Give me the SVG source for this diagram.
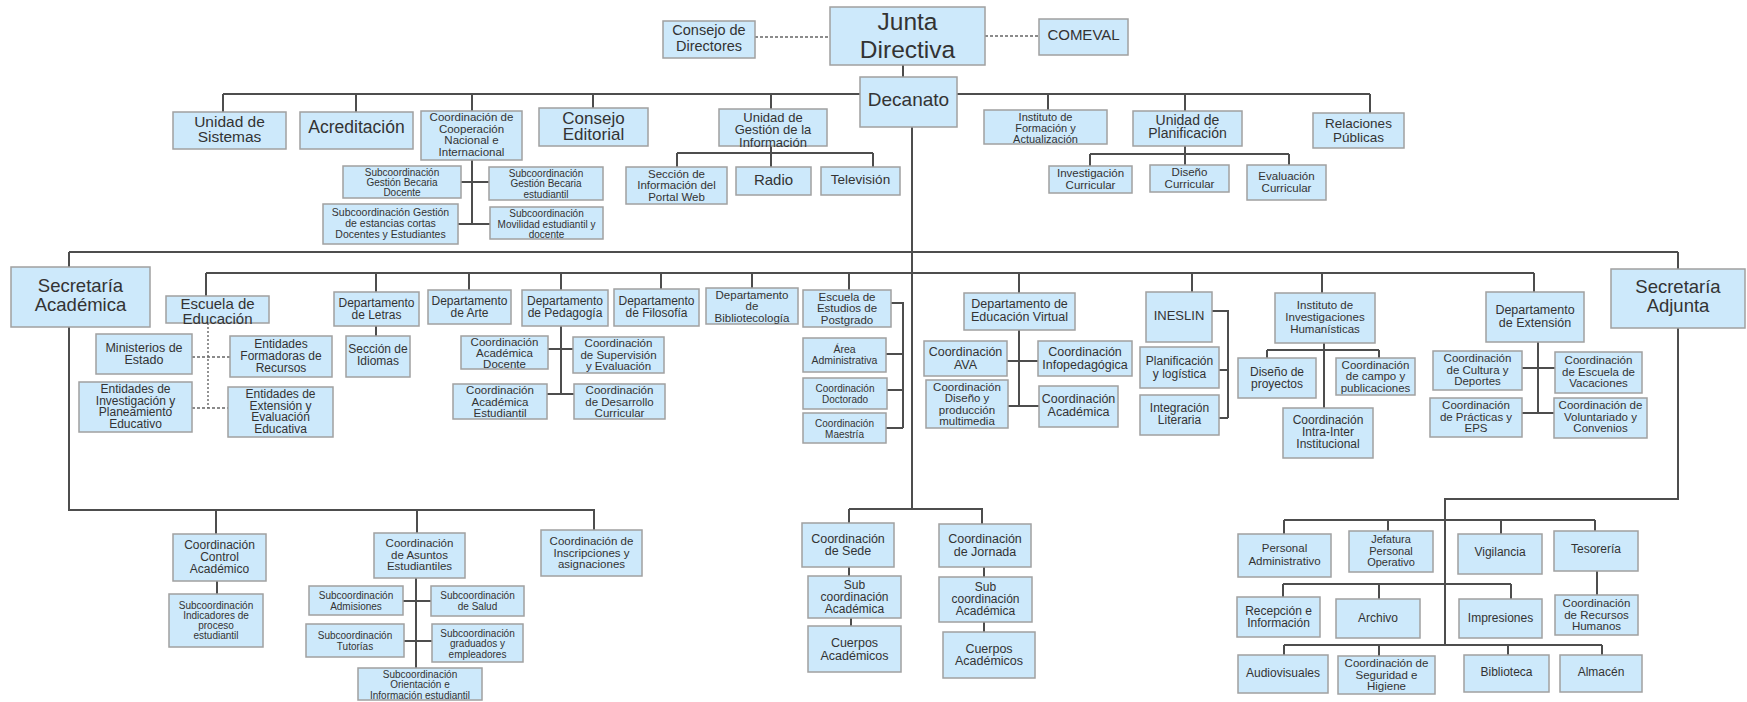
<svg xmlns="http://www.w3.org/2000/svg" width="1747" height="702" viewBox="0 0 1747 702">
<style>
rect{fill:#CDE9FB;stroke:#A0A0A0;stroke-width:1.5}
text{font-family:"Liberation Sans",Arial,sans-serif;fill:#333;text-anchor:middle;dominant-baseline:central}
.c path{fill:none;stroke:#4d4d4d;stroke-width:2}
.c .d{stroke:#666;stroke-width:1.3;stroke-dasharray:3 2}
.c .o{stroke:#888;stroke-width:1.8;stroke-dasharray:2 2}
.f10{font-size:10px}.f105{font-size:10.5px}.f11{font-size:11px}.f115{font-size:11.5px}.f12{font-size:12px}.f125{font-size:12.5px}.f13{font-size:13px}.f135{font-size:13.5px}.f14{font-size:14px}.f145{font-size:14.5px}.f15{font-size:15px}.f155{font-size:15.5px}.f17{font-size:17px}.f175{font-size:17.5px}.f185{font-size:18.5px}.f19{font-size:19px}.f26{font-size:24.5px}
</style>
<rect x="0" y="0" width="1747" height="702" style="fill:#fff;stroke:none"/>
<g id="connectors" class="c">
<path class="d" d="M755,37H830M985,36H1039"/>
<path d="M903,65V77"/>
<path d="M223,94H1370M223,94V112M356,94V112M472,94V111M593,94V108M771,94V109M1048,94V110M1185,94V111M1370,94V113"/>
<path d="M472,160V224M461,182H489M458,224H490"/>
<path d="M771,146V167M677,153H873M677,153V167M873,153V167"/>
<path d="M1185,146V165M1090,154H1289M1090,154V166M1289,154V165"/>
<path d="M912,127V509"/>
<path d="M69,252H1678M69,252V267M1678,252V269"/>
<path d="M206,273H1534M206,273V296M376,273V292M469,273V290M561,273V290M661,273V289M752,273V288M849,273V290M1019,273V293M1192,273V292M1322,273V293M1534,273V292"/>
<path class="o" d="M208,323V408"/>
<path class="d" d="M192,357H230M192,408H228"/>
<path d="M376,326V336"/>
<path d="M561,326V394M548,349H573M547,394H574"/>
<path d="M891,303H903V428M886,354H903M887,390H903M886,428H903"/>
<path d="M1019,330V406M1007,361H1038M1008,406H1039"/>
<path d="M1212,311H1228V418M1219,370H1228M1219,418H1228"/>
<path d="M1324,343V408M1267,350H1379M1267,350V358M1379,350V358"/>
<path d="M1538,342V413M1522,368H1555M1522,413H1554"/>
<path d="M69,327V510H594V530M216,510V534M417,510V533"/>
<path d="M217,581V594"/>
<path d="M416,578V668M403,601H431M404,641H432"/>
<path d="M849,509H982V524M849,509V523"/>
<path d="M849,567V576M851,618V626M984,567V577M984,622V632"/>
<path d="M1678,328V499H1445V645"/>
<path d="M1284,520H1595M1284,520V534M1388,520V531M1501,520V534M1595,520V531"/>
<path d="M1597,571V595"/>
<path d="M1283,584H1511M1283,584V597M1379,584V599M1511,584V599"/>
<path d="M1284,645H1602M1284,645V655M1379,645V656M1508,645V655M1602,645V655"/>
</g>
<g id="n-junta"><rect x="830" y="7" width="155" height="58"/><text class="f26"><tspan x="907.5" y="21">Junta</tspan><tspan x="907.5" y="48.5">Directiva</tspan></text></g>
<g id="n-consejo-dir"><rect x="663" y="21" width="92" height="37"/><text class="f145"><tspan x="709" y="30">Consejo de</tspan><tspan x="709" y="46">Directores</tspan></text></g>
<g id="n-comeval"><rect x="1039" y="19" width="89" height="36"/><text class="f15"><tspan x="1083.5" y="34">COMEVAL</tspan></text></g>
<g id="n-decanato"><rect x="860" y="77" width="97" height="50"/><text class="f19"><tspan x="908.5" y="99">Decanato</tspan></text></g>
<g id="n-sistemas"><rect x="173" y="112" width="113" height="37"/><text class="f155"><tspan x="229.5" y="121">Unidad de</tspan><tspan x="229.5" y="136">Sistemas</tspan></text></g>
<g id="n-acreditacion"><rect x="300" y="112" width="113" height="37"/><text class="f175"><tspan x="356.5" y="127">Acreditación</tspan></text></g>
<g id="n-coop"><rect x="421" y="111" width="101" height="49"/><text class="f115"><tspan x="471.5" y="117">Coordinación de</tspan><tspan x="471.5" y="128.5">Cooperación</tspan><tspan x="471.5" y="140">Nacional  e</tspan><tspan x="471.5" y="151.5">Internacional</tspan></text></g>
<g id="n-gbd"><rect x="343" y="166" width="118" height="32"/><text class="f10"><tspan x="402" y="171.5">Subcoordinación</tspan><tspan x="402" y="181.5">Gestión Becaria</tspan><tspan x="402" y="191.5">Docente</tspan></text></g>
<g id="n-estancias"><rect x="323" y="204" width="135" height="40"/><text class="f105"><tspan x="390.5" y="212">Subcoordinación Gestión</tspan><tspan x="390.5" y="223">de estancias cortas</tspan><tspan x="390.5" y="234">Docentes y Estudiantes</tspan></text></g>
<g id="n-gbe"><rect x="489" y="167" width="114" height="33"/><text class="f10"><tspan x="546" y="172.5">Subcoordinación</tspan><tspan x="546" y="183">Gestión Becaria</tspan><tspan x="546" y="193.5">estudiantil</tspan></text></g>
<g id="n-movilidad"><rect x="490" y="207" width="113" height="32"/><text class="f10"><tspan x="546.5" y="213">Subcoordinación</tspan><tspan x="546.5" y="223.5">Movilidad estudiantil y</tspan><tspan x="546.5" y="234">docente</tspan></text></g>
<g id="n-editorial"><rect x="539" y="108" width="109" height="38"/><text class="f17"><tspan x="593.5" y="117.5">Consejo</tspan><tspan x="593.5" y="134">Editorial</tspan></text></g>
<g id="n-gestion"><rect x="719" y="109" width="108" height="37"/><text class="f13"><tspan x="773" y="116.5">Unidad de</tspan><tspan x="773" y="129">Gestión de la</tspan><tspan x="773" y="141.5">Información</tspan></text></g>
<g id="n-portal"><rect x="626" y="167" width="101" height="37"/><text class="f115"><tspan x="676.5" y="173.5">Sección de</tspan><tspan x="676.5" y="185">Información del</tspan><tspan x="676.5" y="196.5">Portal Web</tspan></text></g>
<g id="n-radio"><rect x="736" y="167" width="75" height="28"/><text class="f15"><tspan x="773.5" y="179">Radio</tspan></text></g>
<g id="n-tv"><rect x="821" y="167" width="79" height="28"/><text class="f135"><tspan x="860.5" y="179">Televisión</tspan></text></g>
<g id="n-formacion"><rect x="984" y="110" width="123" height="34"/><text class="f11"><tspan x="1045.5" y="116.5">Instituto de</tspan><tspan x="1045.5" y="127.5">Formación y</tspan><tspan x="1045.5" y="138.5">Actualización</tspan></text></g>
<g id="n-planif"><rect x="1133" y="111" width="109" height="35"/><text class="f14"><tspan x="1187.5" y="119.5">Unidad de</tspan><tspan x="1187.5" y="133">Planificación</tspan></text></g>
<g id="n-inv-curr"><rect x="1049" y="166" width="83" height="27"/><text class="f115"><tspan x="1090.5" y="173">Investigación</tspan><tspan x="1090.5" y="185">Curricular</tspan></text></g>
<g id="n-dis-curr"><rect x="1150" y="165" width="79" height="27"/><text class="f115"><tspan x="1189.5" y="172">Diseño</tspan><tspan x="1189.5" y="184">Curricular</tspan></text></g>
<g id="n-eval-curr"><rect x="1247" y="165" width="79" height="35"/><text class="f115"><tspan x="1286.5" y="176">Evaluación</tspan><tspan x="1286.5" y="188">Curricular</tspan></text></g>
<g id="n-relaciones"><rect x="1313" y="113" width="91" height="35"/><text class="f135"><tspan x="1358.5" y="123">Relaciones</tspan><tspan x="1358.5" y="137">Públicas</tspan></text></g>
<g id="n-sec-acad"><rect x="11" y="267" width="139" height="60"/><text class="f185"><tspan x="80.5" y="285">Secretaría</tspan><tspan x="80.5" y="304">Académica</tspan></text></g>
<g id="n-esc-edu"><rect x="166" y="296" width="103" height="27"/><text class="f15"><tspan x="217.5" y="303">Escuela de</tspan><tspan x="217.5" y="318">Educación</tspan></text></g>
<g id="n-letras"><rect x="334" y="292" width="85" height="34"/><text class="f12"><tspan x="376.5" y="302.5">Departamento</tspan><tspan x="376.5" y="314.5">de Letras</tspan></text></g>
<g id="n-idiomas"><rect x="346" y="336" width="64" height="41"/><text class="f12"><tspan x="378" y="349">Sección de</tspan><tspan x="378" y="361">Idiomas</tspan></text></g>
<g id="n-ministerios"><rect x="96" y="334" width="96" height="40"/><text class="f125"><tspan x="144" y="347.5">Ministerios de</tspan><tspan x="144" y="360">Estado</tspan></text></g>
<g id="n-formadoras"><rect x="230" y="336" width="102" height="41"/><text class="f12"><tspan x="281" y="344">Entidades</tspan><tspan x="281" y="356">Formadoras de</tspan><tspan x="281" y="368">Recursos</tspan></text></g>
<g id="n-ent-inv"><rect x="79" y="382" width="113" height="50"/><text class="f12"><tspan x="135.5" y="389">Entidades de</tspan><tspan x="135.5" y="400.5">Investigación y</tspan><tspan x="135.5" y="412">Planeamiento</tspan><tspan x="135.5" y="423.5">Educativo</tspan></text></g>
<g id="n-ent-ext"><rect x="228" y="387" width="105" height="50"/><text class="f12"><tspan x="280.5" y="394">Entidades de</tspan><tspan x="280.5" y="405.5">Extensión y</tspan><tspan x="280.5" y="417">Evaluación</tspan><tspan x="280.5" y="428.5">Educativa</tspan></text></g>
<g id="n-arte"><rect x="428" y="290" width="83" height="34"/><text class="f12"><tspan x="469.5" y="300.5">Departamento</tspan><tspan x="469.5" y="312.5">de Arte</tspan></text></g>
<g id="n-pedagogia"><rect x="522" y="290" width="86" height="36"/><text class="f12"><tspan x="565" y="301">Departamento</tspan><tspan x="565" y="313">de Pedagogía</tspan></text></g>
<g id="n-cad"><rect x="461" y="336" width="87" height="33"/><text class="f115"><tspan x="504.5" y="341.5">Coordinación</tspan><tspan x="504.5" y="352.5">Académica</tspan><tspan x="504.5" y="363.5">Docente</tspan></text></g>
<g id="n-superv"><rect x="573" y="337" width="91" height="36"/><text class="f115"><tspan x="618.5" y="343">Coordinación</tspan><tspan x="618.5" y="354.5">de Supervisión</tspan><tspan x="618.5" y="366">y Evaluación</tspan></text></g>
<g id="n-cae"><rect x="453" y="384" width="94" height="35"/><text class="f115"><tspan x="500" y="390">Coordinación</tspan><tspan x="500" y="401.5">Académica</tspan><tspan x="500" y="413">Estudiantil</tspan></text></g>
<g id="n-desarrollo"><rect x="574" y="384" width="91" height="35"/><text class="f115"><tspan x="619.5" y="390">Coordinación</tspan><tspan x="619.5" y="401.5">de Desarrollo</tspan><tspan x="619.5" y="413">Curricular</tspan></text></g>
<g id="n-filosofia"><rect x="614" y="289" width="85" height="37"/><text class="f12"><tspan x="656.5" y="300.5">Departamento</tspan><tspan x="656.5" y="312.5">de Filosofía</tspan></text></g>
<g id="n-biblio"><rect x="706" y="288" width="92" height="36"/><text class="f115"><tspan x="752" y="294.5">Departamento</tspan><tspan x="752" y="306">de</tspan><tspan x="752" y="317.5">Bibliotecología</tspan></text></g>
<g id="n-postgrado"><rect x="803" y="290" width="88" height="37"/><text class="f115"><tspan x="847" y="296.5">Escuela de</tspan><tspan x="847" y="308">Estudios de</tspan><tspan x="847" y="319.5">Postgrado</tspan></text></g>
<g id="n-area-adm"><rect x="803" y="338" width="83" height="34"/><text class="f105"><tspan x="844.5" y="348.5">Área</tspan><tspan x="844.5" y="360">Administrativa</tspan></text></g>
<g id="n-doctorado"><rect x="803" y="378" width="84" height="31"/><text class="f10"><tspan x="845" y="388">Coordinación</tspan><tspan x="845" y="399">Doctorado</tspan></text></g>
<g id="n-maestria"><rect x="803" y="413" width="83" height="30"/><text class="f10"><tspan x="844.5" y="422.5">Coordinación</tspan><tspan x="844.5" y="433.5">Maestría</tspan></text></g>
<g id="n-ed-virtual"><rect x="964" y="293" width="111" height="37"/><text class="f125"><tspan x="1019.5" y="304">Departamento de</tspan><tspan x="1019.5" y="317">Educación Virtual</tspan></text></g>
<g id="n-ava"><rect x="924" y="341" width="83" height="35"/><text class="f125"><tspan x="965.5" y="352">Coordinación</tspan><tspan x="965.5" y="364.5">AVA</tspan></text></g>
<g id="n-infoped"><rect x="1038" y="341" width="94" height="35"/><text class="f125"><tspan x="1085" y="352">Coordinación</tspan><tspan x="1085" y="364.5">Infopedagógica</tspan></text></g>
<g id="n-multimedia"><rect x="926" y="380" width="82" height="48"/><text class="f115"><tspan x="967" y="386.5">Coordinación</tspan><tspan x="967" y="398">Diseño y</tspan><tspan x="967" y="409.5">producción</tspan><tspan x="967" y="421">multimedia</tspan></text></g>
<g id="n-coord-acad-ev"><rect x="1039" y="386" width="79" height="41"/><text class="f125"><tspan x="1078.5" y="399">Coordinación</tspan><tspan x="1078.5" y="411.5">Académica</tspan></text></g>
<g id="n-ineslin"><rect x="1146" y="292" width="66" height="50"/><text class="f13"><tspan x="1179" y="315">INESLIN</tspan></text></g>
<g id="n-planlog"><rect x="1140" y="347" width="79" height="41"/><text class="f12"><tspan x="1179.5" y="361">Planificación</tspan><tspan x="1179.5" y="373.5">y logística</tspan></text></g>
<g id="n-integracion"><rect x="1140" y="395" width="79" height="40"/><text class="f12"><tspan x="1179.5" y="408">Integración</tspan><tspan x="1179.5" y="420">Literaria</tspan></text></g>
<g id="n-inv-hum"><rect x="1275" y="293" width="100" height="50"/><text class="f115"><tspan x="1325" y="305">Instituto de</tspan><tspan x="1325" y="317">Investigaciones</tspan><tspan x="1325" y="329">Humanísticas</tspan></text></g>
<g id="n-dis-proy"><rect x="1238" y="358" width="78" height="40"/><text class="f12"><tspan x="1277" y="371.5">Diseño de</tspan><tspan x="1277" y="383.5">proyectos</tspan></text></g>
<g id="n-campo"><rect x="1336" y="358" width="79" height="37"/><text class="f115"><tspan x="1375.5" y="364.5">Coordinación</tspan><tspan x="1375.5" y="376">de campo y</tspan><tspan x="1375.5" y="387.5">publicaciones</tspan></text></g>
<g id="n-intra"><rect x="1283" y="408" width="90" height="50"/><text class="f12"><tspan x="1328" y="420">Coordinación</tspan><tspan x="1328" y="432">Intra-Inter</tspan><tspan x="1328" y="444">Institucional</tspan></text></g>
<g id="n-extension"><rect x="1486" y="292" width="98" height="50"/><text class="f125"><tspan x="1535" y="310">Departamento</tspan><tspan x="1535" y="322.5">de Extensión</tspan></text></g>
<g id="n-cultura"><rect x="1433" y="351" width="89" height="39"/><text class="f115"><tspan x="1477.5" y="358">Coordinación</tspan><tspan x="1477.5" y="369.5">de Cultura y</tspan><tspan x="1477.5" y="381">Deportes</tspan></text></g>
<g id="n-vacaciones"><rect x="1555" y="352" width="87" height="41"/><text class="f115"><tspan x="1598.5" y="360">Coordinación</tspan><tspan x="1598.5" y="371.5">de Escuela de</tspan><tspan x="1598.5" y="383">Vacaciones</tspan></text></g>
<g id="n-practicas"><rect x="1430" y="398" width="92" height="39"/><text class="f115"><tspan x="1476" y="405">Coordinación</tspan><tspan x="1476" y="416.5">de Prácticas y</tspan><tspan x="1476" y="428">EPS</tspan></text></g>
<g id="n-voluntariado"><rect x="1554" y="398" width="93" height="40"/><text class="f115"><tspan x="1600.5" y="405">Coordinación de</tspan><tspan x="1600.5" y="416.5">Voluntariado y</tspan><tspan x="1600.5" y="428">Convenios</tspan></text></g>
<g id="n-sec-adj"><rect x="1611" y="269" width="134" height="59"/><text class="f185"><tspan x="1678" y="286">Secretaría</tspan><tspan x="1678" y="305">Adjunta</tspan></text></g>
<g id="n-control"><rect x="173" y="534" width="93" height="47"/><text class="f12"><tspan x="219.5" y="545">Coordinación</tspan><tspan x="219.5" y="557">Control</tspan><tspan x="219.5" y="569">Académico</tspan></text></g>
<g id="n-indicadores"><rect x="169" y="594" width="94" height="53"/><text class="f10"><tspan x="216" y="604.5">Subcoordinación</tspan><tspan x="216" y="614.5">Indicadores de</tspan><tspan x="216" y="624.5">proceso</tspan><tspan x="216" y="634.5">estudiantil</tspan></text></g>
<g id="n-asuntos"><rect x="374" y="533" width="91" height="45"/><text class="f115"><tspan x="419.5" y="543">Coordinación</tspan><tspan x="419.5" y="554.5">de Asuntos</tspan><tspan x="419.5" y="566">Estudiantiles</tspan></text></g>
<g id="n-admisiones"><rect x="309" y="586" width="94" height="29"/><text class="f10"><tspan x="356" y="595">Subcoordinación</tspan><tspan x="356" y="605.5">Admisiones</tspan></text></g>
<g id="n-tutorias"><rect x="306" y="624" width="98" height="33"/><text class="f10"><tspan x="355" y="635">Subcoordinación</tspan><tspan x="355" y="645.5">Tutorías</tspan></text></g>
<g id="n-salud"><rect x="431" y="586" width="93" height="30"/><text class="f10"><tspan x="477.5" y="595">Subcoordinación</tspan><tspan x="477.5" y="605.5">de Salud</tspan></text></g>
<g id="n-graduados"><rect x="432" y="624" width="91" height="38"/><text class="f10"><tspan x="477.5" y="632.5">Subcoordinación</tspan><tspan x="477.5" y="643">graduados y</tspan><tspan x="477.5" y="653.5">empleadores</tspan></text></g>
<g id="n-orientacion"><rect x="358" y="668" width="124" height="32"/><text class="f10"><tspan x="420" y="673.5">Subcoordinación</tspan><tspan x="420" y="684">Orientación e</tspan><tspan x="420" y="694.5">Información estudiantil</tspan></text></g>
<g id="n-inscripciones"><rect x="541" y="530" width="101" height="46"/><text class="f115"><tspan x="591.5" y="541">Coordinación de</tspan><tspan x="591.5" y="552.5">Inscripciones y</tspan><tspan x="591.5" y="564">asignaciones</tspan></text></g>
<g id="n-sede"><rect x="802" y="523" width="92" height="44"/><text class="f125"><tspan x="848" y="538.5">Coordinación</tspan><tspan x="848" y="551">de Sede</tspan></text></g>
<g id="n-sub-sede"><rect x="808" y="576" width="93" height="42"/><text class="f12"><tspan x="854.5" y="585">Sub</tspan><tspan x="854.5" y="597">coordinación</tspan><tspan x="854.5" y="609">Académica</tspan></text></g>
<g id="n-cuerpos-sede"><rect x="808" y="626" width="93" height="46"/><text class="f125"><tspan x="854.5" y="643">Cuerpos</tspan><tspan x="854.5" y="655.5">Académicos</tspan></text></g>
<g id="n-jornada"><rect x="939" y="524" width="92" height="43"/><text class="f125"><tspan x="985" y="539">Coordinación</tspan><tspan x="985" y="551.5">de Jornada</tspan></text></g>
<g id="n-sub-jornada"><rect x="939" y="577" width="93" height="45"/><text class="f12"><tspan x="985.5" y="587">Sub</tspan><tspan x="985.5" y="599">coordinación</tspan><tspan x="985.5" y="611">Académica</tspan></text></g>
<g id="n-cuerpos-jornada"><rect x="943" y="632" width="92" height="46"/><text class="f125"><tspan x="989" y="648.5">Cuerpos</tspan><tspan x="989" y="661">Académicos</tspan></text></g>
<g id="n-pers-adm"><rect x="1238" y="534" width="93" height="43"/><text class="f115"><tspan x="1284.5" y="548">Personal</tspan><tspan x="1284.5" y="560.5">Administrativo</tspan></text></g>
<g id="n-jefatura"><rect x="1349" y="531" width="84" height="41"/><text class="f11"><tspan x="1391" y="539">Jefatura</tspan><tspan x="1391" y="550.5">Personal</tspan><tspan x="1391" y="562">Operativo</tspan></text></g>
<g id="n-vigilancia"><rect x="1458" y="534" width="84" height="40"/><text class="f12"><tspan x="1500" y="552">Vigilancia</tspan></text></g>
<g id="n-tesoreria"><rect x="1554" y="531" width="84" height="40"/><text class="f12"><tspan x="1596" y="549">Tesorería</tspan></text></g>
<g id="n-rrhh"><rect x="1555" y="595" width="83" height="40"/><text class="f115"><tspan x="1596.5" y="603">Coordinación</tspan><tspan x="1596.5" y="614.5">de Recursos</tspan><tspan x="1596.5" y="626">Humanos</tspan></text></g>
<g id="n-recepcion"><rect x="1237" y="597" width="83" height="40"/><text class="f12"><tspan x="1278.5" y="611">Recepción e</tspan><tspan x="1278.5" y="623">Información</tspan></text></g>
<g id="n-archivo"><rect x="1336" y="599" width="84" height="39"/><text class="f12"><tspan x="1378" y="618">Archivo</tspan></text></g>
<g id="n-impresiones"><rect x="1459" y="599" width="83" height="39"/><text class="f12"><tspan x="1500.5" y="618">Impresiones</tspan></text></g>
<g id="n-audiovisuales"><rect x="1238" y="655" width="90" height="38"/><text class="f12"><tspan x="1283" y="673">Audiovisuales</tspan></text></g>
<g id="n-seguridad"><rect x="1338" y="656" width="97" height="38"/><text class="f115"><tspan x="1386.5" y="663">Coordinación de</tspan><tspan x="1386.5" y="674.5">Seguridad e</tspan><tspan x="1386.5" y="686">Higiene</tspan></text></g>
<g id="n-biblioteca"><rect x="1464" y="655" width="85" height="37"/><text class="f12"><tspan x="1506.5" y="672">Biblioteca</tspan></text></g>
<g id="n-almacen"><rect x="1560" y="655" width="82" height="37"/><text class="f12"><tspan x="1601" y="672">Almacén</tspan></text></g>
</svg>
